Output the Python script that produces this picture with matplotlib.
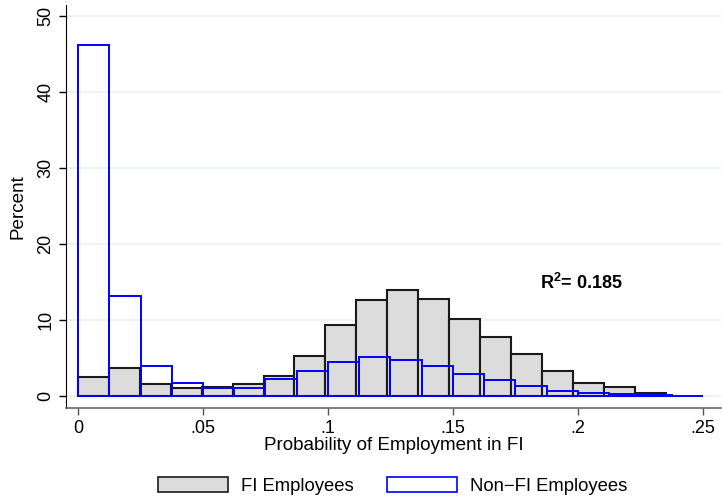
import numpy as np
import matplotlib
matplotlib.use('Agg')
import matplotlib.pyplot as plt
from matplotlib.patches import Patch

plt.rcParams['font.family'] = ['Liberation Sans', 'DejaVu Sans']
plt.rcParams['mathtext.fontset'] = 'custom'
plt.rcParams['mathtext.rm'] = 'Liberation Sans'
plt.rcParams['mathtext.bf'] = 'Liberation Sans:bold'

# percent per bin
fi_pct = [2.5, 3.7, 1.6, 1.0, 1.2, 1.6, 2.6, 5.2, 9.3, 12.6, 13.9, 12.8,
          10.1, 7.7, 5.5, 3.3, 1.7, 1.2, 0.4]
nonfi_pct = [46.1, 13.1, 4.0, 1.7, 1.0, 1.1, 2.2, 3.3, 4.5, 5.1, 4.7, 3.9,
             2.9, 2.1, 1.3, 0.65, 0.35, 0.2, 0.1, 0.05]
fi_width = 0.01237
nonfi_width = 0.0125

xticks = [0, 0.05, 0.1, 0.15, 0.2, 0.25]
xticklabels = ['0', '.05', '.1', '.15', '.2', '.25']
yticks = [0, 10, 20, 30, 40, 50]

fig = plt.figure(figsize=(7.23, 5.0), dpi=100)
ax = fig.add_axes([0.0913, 0.1846, 0.9059, 0.8054])

fi_left = np.arange(len(fi_pct)) * fi_width
nonfi_left = np.arange(len(nonfi_pct)) * nonfi_width

ax.bar(fi_left, fi_pct, width=fi_width, align='edge', color='#dcdcdc',
       edgecolor='#1a1a1a', linewidth=1.5, zorder=2)
ax.bar(nonfi_left, nonfi_pct, width=nonfi_width, align='edge', fill=False,
       edgecolor='#0000ff', linewidth=1.4, zorder=3)

ax.set_xlim(-0.0048, 0.2572)
ax.set_ylim(-1.54, 51.4)
ax.set_xticks(xticks)
ax.set_xticklabels(xticklabels)
ax.set_yticks(yticks)
ax.set_yticklabels([str(t) for t in yticks], rotation=90, va='center')
ax.tick_params(direction='out', length=5, width=1, labelsize=13, colors='black')
ax.tick_params(axis='x', color='#555555')
for t in yticks:
    ax.axhline(t, color='#eaf2f3', linewidth=1.2, zorder=0)

ax.spines['top'].set_visible(False)
ax.spines['right'].set_visible(False)
ax.spines['left'].set_color('black')
ax.spines['bottom'].set_color('#666666')
ax.spines['bottom'].set_linewidth(1.2)

ax.set_xlabel('Probability of Employment in FI', fontsize=13.6, labelpad=0)
ax.set_ylabel('Percent', fontsize=13.6, labelpad=8)

ax.text(0.185, 14.0, r'$\mathbf{R^2}$= 0.185', fontsize=13, fontweight='bold')

handles = [Patch(facecolor='#dcdcdc', edgecolor='#1a1a1a', linewidth=1.2, label='FI Employees'),
           Patch(facecolor='white', edgecolor='#0000ff', linewidth=1.2, label='Non\u2212FI Employees')]
fig.legend(handles=handles, loc='center', bbox_to_anchor=(0.543, 0.028), ncol=2,
           frameon=False, fontsize=13.3, handlelength=3.8, handleheight=0.9,
           columnspacing=1.8, handletextpad=0.7)

fig.savefig('out.png', dpi=100)
